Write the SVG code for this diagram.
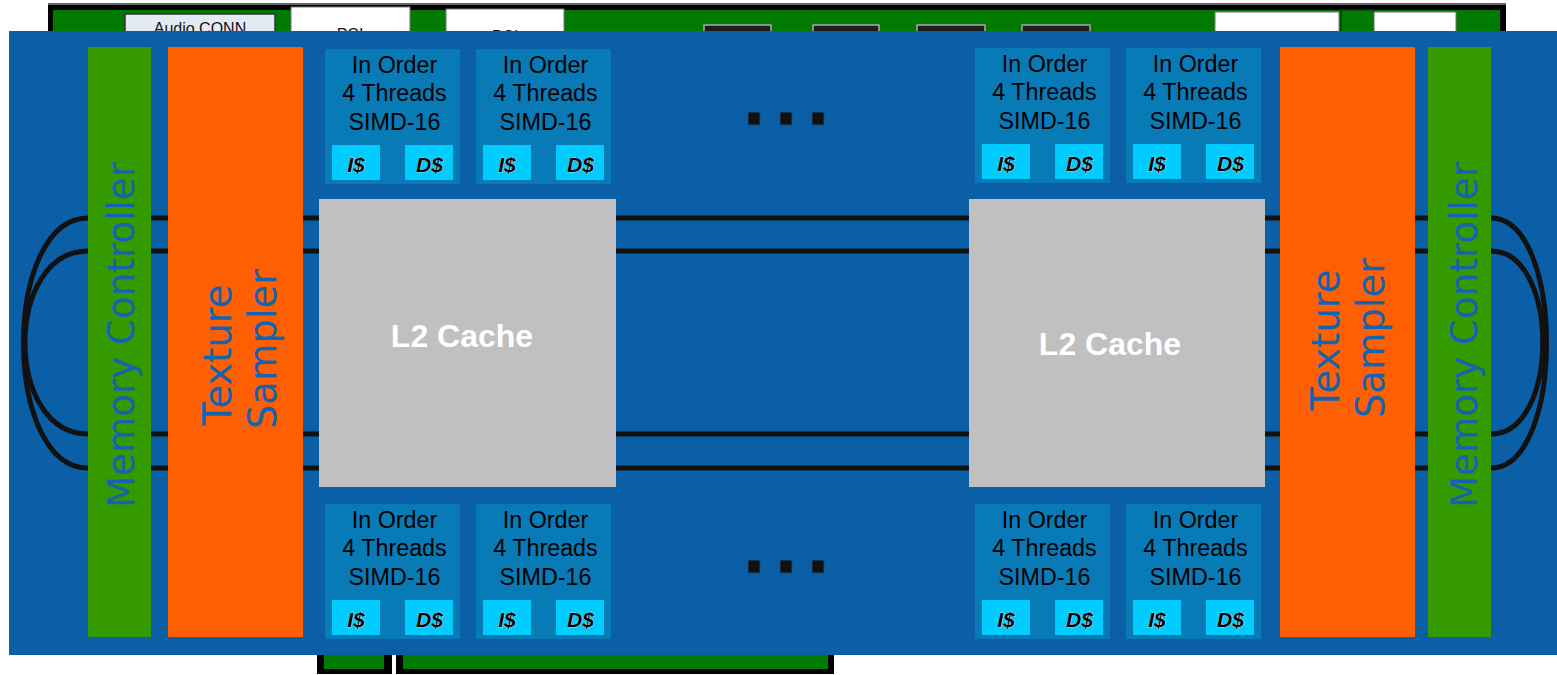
<svg xmlns="http://www.w3.org/2000/svg" width="1557" height="675" viewBox="0 0 1557 675">
<style>
.board{fill:#007a00}
.edge{fill:#000}
.wbox{fill:#fff;stroke:#777;stroke-width:1}
.dbox{fill:#1c1c1c;stroke:#aaa;stroke-width:1.5}
.die{fill:#0b5fa7}
.mc{fill:#359a00}
.ts{fill:#fe5f00}
.l2{fill:#c0c0c0}
.core{fill:#087bb7}
.cache{fill:#00ccff}
.vt{font-family:"DejaVu Sans",sans-serif;font-size:37px;fill:#1563b0;text-anchor:middle}
.ts .vt,.tst{font-family:"DejaVu Sans",sans-serif;font-size:38.5px;fill:#1563b0;text-anchor:middle}
.ct{font-family:"Liberation Sans",Arial,sans-serif;font-size:23.3px;fill:#000;text-anchor:middle}
.cc{font-family:"Liberation Sans",Arial,sans-serif;font-size:21px;font-weight:bold;font-style:italic;fill:#000;text-anchor:middle;stroke:#e8f8ff;stroke-width:0.6px;paint-order:stroke}
.l2t{font-family:"Liberation Sans",Arial,sans-serif;font-size:32px;font-weight:bold;fill:#fff;text-anchor:middle}
.ring{fill:none;stroke:#111;stroke-width:5}
.dot{fill:#111;stroke:#1d4f80;stroke-width:1}
</style>
<defs>
<g id="coreTpl">
<rect class="core" x="0" y="0" width="135" height="135"/>
<text class="ct" x="69.5" y="23.5">In Order</text>
<text class="ct" x="69.5" y="52">4 Threads</text>
<text class="ct" x="69.5" y="80.5">SIMD-16</text>
<rect class="cache" x="7" y="96" width="48" height="35"/>
<rect class="cache" x="80" y="96" width="48" height="35"/>
<text class="cc" x="31" y="123">I$</text>
<text class="cc" x="104.5" y="123">D$</text>
</g>
</defs>

<g id="board">
<rect class="edge" x="48" y="4" width="1458" height="40"/>
<rect x="48" y="3" width="1458" height="2" fill="#666"/>
<rect class="board" x="53" y="10" width="1447" height="34"/>
<rect x="125" y="14" width="150" height="30" fill="#e4eaf4" stroke="#333" stroke-width="1.5"/>
<text x="200" y="33.5" font-family="Liberation Sans, Arial, sans-serif" font-size="16" fill="#111" text-anchor="middle">Audio CONN</text>
<rect class="wbox" x="291" y="7" width="119" height="37"/>
<text x="350" y="40" font-family="Liberation Sans, Arial, sans-serif" font-size="16" fill="#111" text-anchor="middle">PCI</text>
<rect class="wbox" x="446" y="9" width="118" height="35"/>
<text x="505" y="42" font-family="Liberation Sans, Arial, sans-serif" font-size="16" fill="#111" text-anchor="middle">PCI</text>
<rect class="dbox" x="704" y="25" width="67" height="19"/>
<rect class="dbox" x="813" y="25" width="66" height="19"/>
<rect class="dbox" x="917" y="25" width="68" height="19"/>
<rect class="dbox" x="1022" y="25" width="68" height="19"/>
<rect class="wbox" x="1215" y="12" width="124" height="32"/>
<rect x="1341" y="10" width="33" height="34" fill="#007a00" stroke="#0b3f0b" stroke-width="1.5"/>
<rect class="wbox" x="1374" y="12" width="82" height="32"/>
<rect class="edge" x="317" y="640" width="75" height="34"/>
<rect class="board" x="324" y="640" width="60" height="29"/>
<rect class="edge" x="396" y="640" width="438" height="34"/>
<rect class="board" x="403" y="640" width="425" height="29"/>
</g>

<rect id="die" class="die" x="9" y="31" width="1548" height="624"/>

<g id="connectors">
<line class="ring" x1="88" y1="218" x2="1491" y2="218"/>
<line class="ring" x1="88" y1="251" x2="1491" y2="251"/>
<line class="ring" x1="88" y1="434" x2="1491" y2="434"/>
<line class="ring" x1="88" y1="468" x2="1491" y2="468"/>
<path class="ring" d="M88,218 C2,218 2,468 88,468"/>
<path class="ring" d="M88,251 C4,251 4,434 88,434"/>
<path class="ring" d="M1491,218 C1565,218 1565,468 1491,468"/>
<path class="ring" d="M1491,251 C1560,251 1560,434 1491,434"/>
</g>

<g id="memory-controller-left">
<rect class="mc" x="88" y="47" width="63" height="590"/>
<text class="vt" transform="translate(134,335) rotate(-90)" textLength="346" lengthAdjust="spacingAndGlyphs">Memory Controller</text>
</g>
<g id="texture-sampler-left">
<rect class="ts" x="168" y="47" width="135" height="590"/>
<text class="tst" transform="translate(231,355) rotate(-90)">Texture</text>
<text class="tst" transform="translate(276,349) rotate(-90)">Sampler</text>
</g>
<g id="l2-cache-left">
<rect class="l2" x="319" y="199" width="297" height="288"/>
<text class="l2t" x="462" y="347">L2 Cache</text>
</g>
<g id="l2-cache-right">
<rect class="l2" x="969" y="199" width="296" height="288"/>
<text class="l2t" x="1110" y="355">L2 Cache</text>
</g>
<g id="texture-sampler-right">
<rect class="ts" x="1280" y="47" width="135" height="590"/>
<text class="tst" transform="translate(1339,340) rotate(-90)">Texture</text>
<text class="tst" transform="translate(1384,338) rotate(-90)">Sampler</text>
</g>
<g id="memory-controller-right">
<rect class="mc" x="1428" y="47" width="63" height="590"/>
<text class="vt" transform="translate(1477,335) rotate(-90)" textLength="346" lengthAdjust="spacingAndGlyphs">Memory Controller</text>
</g>

<g id="core-top-1"><use href="#coreTpl" x="325" y="49"/></g>
<g id="core-top-2"><use href="#coreTpl" x="476" y="49"/></g>
<g id="core-top-3"><use href="#coreTpl" x="975" y="48"/></g>
<g id="core-top-4"><use href="#coreTpl" x="1126" y="48"/></g>
<g id="core-bottom-1"><use href="#coreTpl" x="325" y="504"/></g>
<g id="core-bottom-2"><use href="#coreTpl" x="476" y="504"/></g>
<g id="core-bottom-3"><use href="#coreTpl" x="975" y="504"/></g>
<g id="core-bottom-4"><use href="#coreTpl" x="1126" y="504"/></g>

<g id="ellipsis-top">
<rect class="dot" x="748" y="112" width="12" height="13"/>
<rect class="dot" x="780" y="112" width="12" height="13"/>
<rect class="dot" x="812" y="112" width="12" height="13"/>
</g>
<g id="ellipsis-bottom">
<rect class="dot" x="748" y="560" width="12" height="13"/>
<rect class="dot" x="780" y="560" width="12" height="13"/>
<rect class="dot" x="812" y="560" width="12" height="13"/>
</g>
</svg>
